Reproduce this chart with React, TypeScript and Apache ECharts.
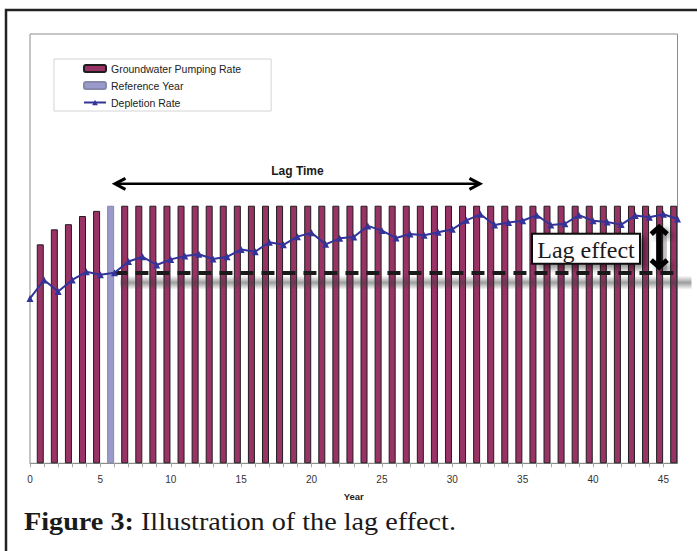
import React, { useEffect, useRef } from "react";
import * as echarts from "echarts";

// ---- data ----
const years = [
  0, 1, 2, 3, 4, 5, 6, 7, 8, 9, 10, 11, 12, 13, 14, 15, 16, 17, 18, 19, 20, 21, 22, 23,
  24, 25, 26, 27, 28, 29, 30, 31, 32, 33, 34, 35, 36, 37, 38, 39, 40, 41, 42, 43, 44, 45, 46,
];
const depletionRate = [
  38.4, 42.7, 40.0, 42.7, 44.6, 43.9, 44.4, 47.0, 48.1, 46.2, 47.5, 48.3, 48.7, 47.6, 48.1,
  49.8, 49.3, 51.5, 50.9, 52.8, 53.7, 51.0, 52.4, 52.7, 55.3, 54.2, 52.5, 53.4, 53.1, 53.8,
  54.5, 56.6, 58.0, 55.5, 56.1, 56.5, 57.8, 55.5, 55.8, 57.8, 56.5, 56.2, 55.6, 57.7, 57.3,
  58.0, 56.9,
];
const pumpingYears = [
  1, 2, 3, 4, 5, 6, 7, 8, 9, 10, 11, 12, 13, 14, 15, 16, 17, 18, 19, 20, 21, 22, 23, 24,
  25, 26, 27, 28, 29, 30, 31, 32, 33, 34, 35, 36, 37, 38, 39, 40, 41, 42, 43, 44, 45, 46,
];
const pumpingRate = [
  51.0, 54.5, 55.7, 57.6, 58.8, 60, 60, 60, 60, 60, 60, 60, 60, 60, 60, 60, 60, 60, 60, 60,
  60, 60, 60, 60, 60, 60, 60, 60, 60, 60, 60, 60, 60, 60, 60, 60, 60, 60, 60, 60, 60, 60,
  60, 60, 60, 60,
];
const referenceYear = 6;
const lastYear = 46;
const lagEndYear = 32;
const lagArrowValue = 65.1;
const lagLabelValue = 68.0;
const lagEffectYear = 44.7;
const lagEffectTop = 55.7;
const lagEffectBottom = 45.0;
const lagBoxCenter = [39.5, 50.0];

const SANS = "'Liberation Sans', Arial, sans-serif";
const SERIF = "'Liberation Serif', 'Times New Roman', serif";

const refIdx = pumpingYears.indexOf(referenceYear);
const pumpingData = pumpingYears
  .map((y, i) => [y, pumpingRate[i]])
  .filter((d) => d[0] !== referenceYear);
const referenceData = [[referenceYear, pumpingRate[refIdx]]];
const depletionData = years.map((y, i) => [y, depletionRate[i]]);
const refDepletion = depletionRate[years.indexOf(referenceYear)];

export default function App() {
  const ref = useRef<HTMLDivElement>(null);
  useEffect(() => {
    const chart = echarts.init(ref.current!, null, { renderer: "svg" });
    chart.setOption({
      animation: false,
      backgroundColor: "#ffffff",
      grid: {
        left: 30,
        right: 19.5,
        top: 34,
        bottom: 87.7,
        show: true,
        borderColor: "#8c8c8c",
        borderWidth: 1,
        backgroundColor: "#ffffff",
        outerBoundsMode: "none",
      },
      legend: {
        orient: "vertical",
        left: 54,
        top: 59,
        padding: [4, 30, 3, 29],
        itemGap: 6,
        itemWidth: 22,
        itemHeight: 7,
        borderColor: "#d4d4d4",
        borderWidth: 1,
        textStyle: { fontFamily: SANS, fontSize: 10.5, color: "#222" },
        data: ["Groundwater Pumping Rate", "Reference Year", "Depletion Rate"],
      },
      xAxis: [
        {
          type: "value",
          min: 0,
          max: lastYear,
          interval: 1,
          name: "Year",
          nameLocation: "middle",
          nameGap: 28,
          nameTextStyle: { fontFamily: SANS, fontSize: 9.5, fontWeight: "bold", color: "#222" },
          axisLine: { show: true, lineStyle: { color: "#8c8c8c", width: 1 } },
          axisTick: { show: true, length: 4, lineStyle: { color: "#aaa" } },
          axisLabel: {
            fontFamily: SANS,
            fontSize: 10,
            color: "#333",
            margin: 11,
            showMaxLabel: false,
            formatter: (v: number) => (v % 5 === 0 ? String(v) : ""),
          },
          splitLine: { show: false },
        },
        {
          type: "value",
          min: 0.27,
          max: lastYear + 0.27,
          show: false,
          splitLine: { show: false },
        },
      ],
      yAxis: { type: "value", min: 0, max: 100, show: false, splitLine: { show: false } },
      series: [
        {
          name: "Groundwater Pumping Rate",
          type: "bar",
          xAxisIndex: 1,
          barWidth: 7,
          barGap: "-100%",
          itemStyle: { color: "#993366", borderColor: "#1e1e1e", borderWidth: 1 },
          data: pumpingData,
        },
        {
          name: "Reference Year",
          type: "bar",
          xAxisIndex: 1,
          barWidth: 7,
          barGap: "-100%",
          itemStyle: { color: "#9999cc", borderColor: "#8888aa", borderWidth: 1 },
          data: referenceData,
        },
        {
          name: "Depletion Rate",
          type: "line",
          xAxisIndex: 0,
          symbol: "triangle",
          symbolSize: 7,
          z: 6,
          itemStyle: { color: "#333399" },
          lineStyle: { color: "#333399", width: 2 },
          data: depletionData,
          markLine: {
            silent: true,
            symbol: ["none", "none"],
            label: { show: false },
            lineStyle: {
              color: "#1a1a1a",
              width: 4,
              type: [13, 8],
              opacity: 1,
            },
            data: [[{ coord: [referenceYear, refDepletion] }, { coord: [lastYear, refDepletion] }]],
          },
        },
      ],
    });

    const px = (x: number, y: number) =>
      chart.convertToPixel({ seriesIndex: 2 }, [x, y]) as number[];

    const [lx1, ly] = px(referenceYear, lagArrowValue);
    const [lx2] = px(lagEndYear, lagArrowValue);
    const [ltx, lty] = px((referenceYear + lagEndYear) / 2, lagLabelValue);
    const [vx, vTop] = px(lagEffectYear, lagEffectTop);
    const [, vBot] = px(lagEffectYear, lagEffectBottom);
    const [bx, by] = px(lagBoxCenter[0], lagBoxCenter[1]);
    const [dx1, dy] = px(referenceYear, refDepletion);
    const [dx2] = px(lastYear, refDepletion);
    const boxW = 108;
    const boxH = 30;

    const arrowStyle = { stroke: "#000", lineWidth: 3, fill: null, lineJoin: "miter" };
    const shadow = {
      shadowBlur: 6,
      shadowColor: "rgba(0,0,0,0.45)",
      shadowOffsetX: 5,
      shadowOffsetY: 4,
    };

    const shadowFill = new echarts.graphic.LinearGradient(0, 0, 0, 1, [
      { offset: 0, color: "rgba(60,60,60,0)" },
      { offset: 0.5, color: "rgba(60,60,60,0.5)" },
      { offset: 1, color: "rgba(60,60,60,0)" },
    ]);

    chart.setOption({
      graphic: [
        {
          type: "rect",
          z: 100,
          shape: { x: 6, y: 10, width: 900, height: 800 },
          style: { fill: null, stroke: "#222", lineWidth: 2.5 },
          silent: true,
        },
        // blurred shadow of the dashed reference line
        {
          type: "rect",
          z: 4,
          shape: { x: dx1 + 6, y: dy + 3, width: dx2 - dx1 + 8, height: 14 },
          style: { fill: shadowFill },
          silent: true,
        },
        // Lag time arrow
        {
          type: "line",
          z: 100,
          shape: { x1: lx1 + 1, y1: ly, x2: lx2 - 1, y2: ly },
          style: { stroke: "#000", lineWidth: 2.5 },
        },
        {
          type: "polyline",
          z: 100,
          shape: { points: [[lx1 + 11, ly - 5.5], [lx1 + 0.5, ly], [lx1 + 11, ly + 5.5]] },
          style: arrowStyle,
        },
        {
          type: "polyline",
          z: 100,
          shape: { points: [[lx2 - 11, ly - 5.5], [lx2 - 0.5, ly], [lx2 - 11, ly + 5.5]] },
          style: arrowStyle,
        },
        {
          type: "text",
          z: 100,
          x: ltx,
          y: lty,
          style: {
            text: "Lag Time",
            fontFamily: SANS,
            fontSize: 12,
            fontWeight: "bold",
            fill: "#1a1a1a",
            align: "center",
            verticalAlign: "middle",
          },
        },
        // Lag effect box
        {
          type: "rect",
          z: 100,
          shape: { x: bx - boxW / 2, y: by - boxH / 2, width: boxW, height: boxH },
          style: { fill: "#fff", stroke: "#111", lineWidth: 2, ...shadow },
        },
        {
          type: "text",
          z: 101,
          x: bx,
          y: by + 1,
          style: {
            text: "Lag effect",
            fontFamily: SERIF,
            fontSize: 24,
            fill: "#1a1a1a",
            align: "center",
            verticalAlign: "middle",
          },
        },
        // Vertical double arrow (shaft as a rect so that its shadow renders)
        {
          type: "rect",
          z: 100,
          shape: { x: vx - 2.5, y: vTop + 4, width: 5, height: vBot - vTop - 8 },
          style: { fill: "#000", ...shadow },
        },
        {
          type: "polyline",
          z: 100,
          shape: { points: [[vx - 8, vTop + 10], [vx, vTop + 3], [vx + 8, vTop + 10]] },
          style: { stroke: "#000", lineWidth: 5, fill: null, lineJoin: "miter", ...shadow },
        },
        {
          type: "polyline",
          z: 100,
          shape: { points: [[vx - 8, vBot - 10], [vx, vBot - 3], [vx + 8, vBot - 10]] },
          style: { stroke: "#000", lineWidth: 5, fill: null, lineJoin: "miter", ...shadow },
        },
        // Caption
        {
          type: "text",
          z: 100,
          x: 24,
          y: 521,
          scaleX: 1.085,
          style: {
            text: "{b|Figure 3:} Illustration of the lag effect.",
            fontFamily: SERIF,
            fontSize: 26,
            fill: "#1a1a1a",
            verticalAlign: "middle",
            rich: {
              b: { fontFamily: SERIF, fontSize: 26, fontWeight: "bold", fill: "#1a1a1a" },
            },
          },
        },
      ],
    });

    return () => chart.dispose();
  }, []);
  return (
    <div
      ref={ref}
      style={{ position: "fixed", left: 0, top: 0, width: 697, height: 551, background: "#fff" }}
    />
  );
}
